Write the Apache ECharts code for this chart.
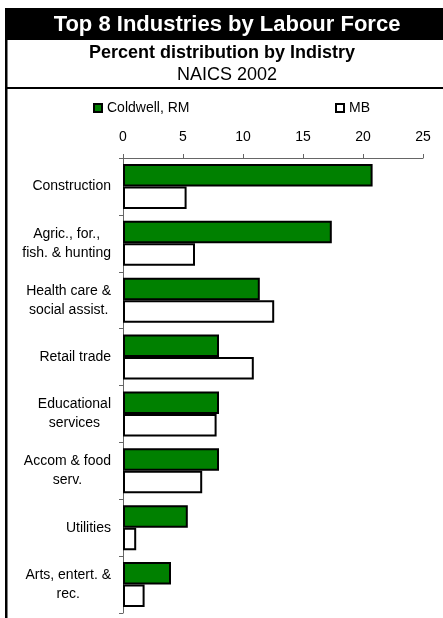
<!DOCTYPE html>
<html>
<head>
<meta charset="utf-8">
<script src="https://cdn.jsdelivr.net/npm/echarts@6/dist/echarts.min.js"></script>
<style>
html,body{margin:0;padding:0;background:#fff;}
#chart{width:443px;height:618px;}
</style>
</head>
<body>
<div id="chart"></div>
<script>
var categories = ['Construction', 'Agric., for.,\nfish. & hunting', 'Health care &\nsocial assist.', 'Retail trade', 'Educational\nservices', 'Accom & food\nserv.', 'Utilities', 'Arts, entert. &\nrec.'];
var coldwell = [20.8, 17.4, 11.4, 8.0, 8.0, 8.0, 5.4, 4.0];
var mb = [5.3, 6.0, 12.6, 10.9, 7.8, 6.6, 1.1, 1.8];
var xTicks = [0, 5, 10, 15, 20, 25];
var titleText = 'Top 8 Industries by Labour Force';
var subtitleText = 'Percent distribution by Indistry';
var yearText = 'NAICS 2002';

var FONT = '"Liberation Sans", Arial, sans-serif';
var chart = echarts.init(document.getElementById('chart'), null, {renderer: 'canvas'});
var option = {
  animation: false,
  backgroundColor: '#fff',
  textStyle: {fontFamily: FONT},
  graphic: [
    {type: 'rect', shape: {x: 5, y: 8, width: 438, height: 32}, style: {fill: '#000'}},
    {type: 'rect', shape: {x: 5, y: 8, width: 2.5, height: 610}, style: {fill: '#000'}},
    {type: 'rect', shape: {x: 5, y: 87, width: 438, height: 2}, style: {fill: '#000'}},
    {type: 'text', x: 227, y: 25, style: {text: titleText, fill: '#fff', font: 'bold 22px ' + FONT, textAlign: 'center', textVerticalAlign: 'middle'}},
    {type: 'text', x: 222, y: 53, style: {text: subtitleText, fill: '#000', font: 'bold 18px ' + FONT, textAlign: 'center', textVerticalAlign: 'middle'}},
    {type: 'text', x: 227, y: 75, style: {text: yearText, fill: '#000', font: '18px ' + FONT, textAlign: 'center', textVerticalAlign: 'middle'}}
  ],
  legend: [
    {left: 93, top: 101, itemWidth: 8, itemHeight: 8, icon: 'rect', padding: 0,
     textStyle: {fontSize: 14, color: '#000', fontFamily: FONT}, data: ['Coldwell, RM']},
    {left: 335, top: 101, itemWidth: 8, itemHeight: 8, icon: 'rect', padding: 0,
     textStyle: {fontSize: 14, color: '#000', fontFamily: FONT}, data: ['MB']}
  ],
  grid: {left: 123, right: 20, top: 158, bottom: 5, containLabel: false},
  xAxis: {
    type: 'value', position: 'top', min: 0, max: 25, interval: 5,
    axisLine: {show: true, lineStyle: {color: '#666', width: 1}},
    axisTick: {show: true, length: 4, lineStyle: {color: '#666'}},
    splitLine: {show: false},
    axisLabel: {fontSize: 14, color: '#000', margin: 14, fontFamily: FONT,
      formatter: function (v) { return xTicks.indexOf(v) >= 0 ? String(v) : ''; }}
  },
  yAxis: {
    type: 'category', inverse: true, data: categories,
    axisLine: {show: true, lineStyle: {color: '#666', width: 1}},
    axisTick: {show: true, length: 4, lineStyle: {color: '#666'}},
    axisLabel: {fontSize: 14, color: '#000', margin: 12, lineHeight: 19, fontFamily: FONT,
      formatter: function (v) {
        return v.split('\n').map(function (l) { return '{c|' + l + '}'; }).join('\n');
      },
      rich: {c: {align: 'center', fontSize: 14, lineHeight: 19, color: '#000', fontFamily: FONT}}
    }
  },
  series: [
    {name: 'Coldwell, RM', type: 'bar', data: coldwell, barGap: '0%', barCategoryGap: '21%',
     itemStyle: {color: '#008000', borderColor: '#000', borderWidth: 2}},
    {name: 'MB', type: 'bar', data: mb, barGap: '0%', barCategoryGap: '21%',
     itemStyle: {color: '#fff', borderColor: '#000', borderWidth: 2}}
  ]
};
chart.setOption(option);
</script>
</body>
</html>
